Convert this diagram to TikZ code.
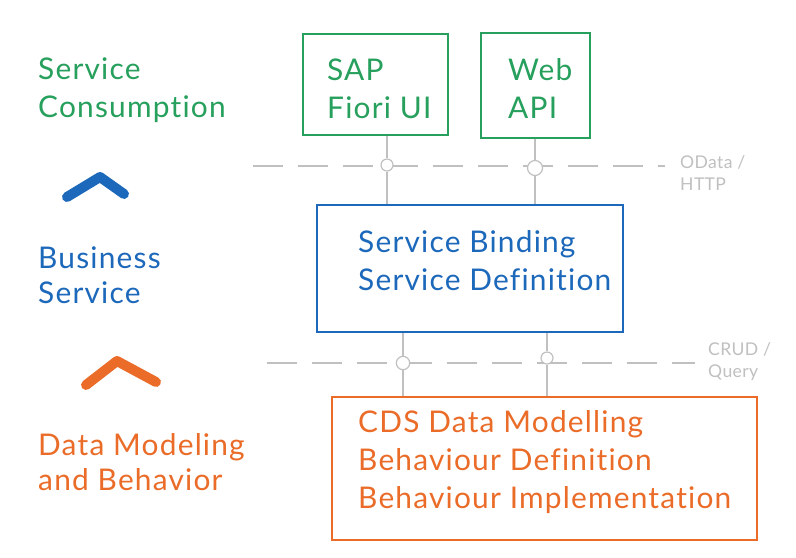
\documentclass[tikz,border=0pt]{standalone}
\usepackage{fontspec}
\setmainfont{Lato}[Ligatures=NoCommon, LetterSpace=4]
\newfontfamily\protofont{Lato}[Ligatures=NoCommon, LetterSpace=2]
\usepackage{tikz}

\definecolor{consgreen}{RGB}{38,160,92}
\definecolor{bizblue}{RGB}{28,104,186}
\definecolor{dataorange}{RGB}{234,108,40}
\definecolor{wiregray}{RGB}{192,192,192}

\tikzset{
  layer/.style={anchor=base west, inner sep=0pt, font=\fontsize{25.5}{32}\selectfont},
  box/.style={draw, line width=1pt, inner sep=0pt},
  proto/.style={anchor=base west, inner sep=0pt, text=wiregray, font=\protofont\fontsize{15}{18}\selectfont},
  wire/.style={wiregray, line width=1pt},
  plug/.style={circle, draw=wiregray, line width=1pt, inner sep=0pt, fill=white},
  chevron/.style={line width=8.5pt, line cap=round, line join=round}
}

\begin{document}
\begin{tikzpicture}[x=0.03cm, y=-0.03cm]
    \fill[white] (0,0) rectangle (796,557);
    \useasboundingbox (0,0) rectangle (796,557);

    % layer names on the left
    \node[layer, text=consgreen] (cons1) at (38,79) {Service};
    \node[layer, text=consgreen] (cons2) at (38,117) {Consumption};
    \draw[chevron, bizblue] (67,197) -- (100,177) -- (124,194);
    \node[layer, text=bizblue] (biz1) at (38,268) {Business};
    \node[layer, text=bizblue] (biz2) at (38,303) {Service};
    \draw[chevron, dataorange] (86,385) -- (117,361) -- (156,382);
    \node[layer, text=dataorange] (data1) at (38,455) {Data Modeling};
    \node[layer, text=dataorange] (data2) at (38,490) {and Behavior};

    % boxes
    \node[box, draw=consgreen, minimum width=4.35cm, minimum height=3.03cm] (fiori) at (375.5,84.5) {};
    \node[box, draw=consgreen, minimum width=3.27cm, minimum height=3.15cm] (webapi) at (535.5,85.5) {};
    \node[box, draw=bizblue, minimum width=9.18cm, minimum height=3.81cm] (bind) at (470,268.5) {};
    \node[box, draw=dataorange, minimum width=12.75cm, minimum height=4.29cm] (cds) at (544.5,468.5) {};

    \node[layer, text=consgreen] (fiori1) at (327,80) {SAP};
    \node[layer, text=consgreen] (fiori2) at (327,118) {Fiori UI};
    \node[layer, text=consgreen] (web1) at (508,80) {Web};
    \node[layer, text=consgreen] (web2) at (508,118) {API};
    \node[layer, text=bizblue] (bind1) at (358,252) {Service Binding};
    \node[layer, text=bizblue] (bind2) at (358,290) {Service Definition};
    \node[layer, text=dataorange] (cds1) at (358,432) {CDS Data Modelling};
    \node[layer, text=dataorange] (cds2) at (358,470) {Behaviour Definition};
    \node[layer, text=dataorange] (cds3) at (358,508) {Behaviour Implementation};

    % protocol lines
    \coordinate (odl) at (253,166);
    \coordinate (odr) at (665,166);
    \coordinate (crl) at (267,363);
    \coordinate (crr) at (695,363);
    \draw[wire, dash pattern=on 0.9cm off 0.45cm] (odl) -- (odr);
    \draw[wire, dash pattern=on 0.9cm off 0.45cm] (crl) -- (crr);
    \node[proto] (od1) at (680,168) {OData /};
    \node[proto] (od2) at (680,190) {HTTP};
    \node[proto] (cr1) at (708,355) {CRUD /};
    \node[proto] (cr2) at (708,377) {Query};

    % connectors
    \node[plug, minimum size=0.36cm] (p1) at (387,165) {};
    \node[plug, minimum size=0.45cm] (p2) at (535,168) {};
    \node[plug, minimum size=0.4cm] (p3) at (403,363) {};
    \node[plug, minimum size=0.36cm] (p4) at (547,358) {};
    \draw[wire] (fiori.south -| p1) -- (p1) -- (p1 |- bind.north);
    \draw[wire] (webapi.south -| p2) -- (p2) -- (p2 |- bind.north);
    \draw[wire] (bind.south -| p3) -- (p3) -- (p3 |- cds.north);
    \draw[wire] (bind.south -| p4) -- (p4) -- (p4 |- cds.north);
\end{tikzpicture}
\end{document}
